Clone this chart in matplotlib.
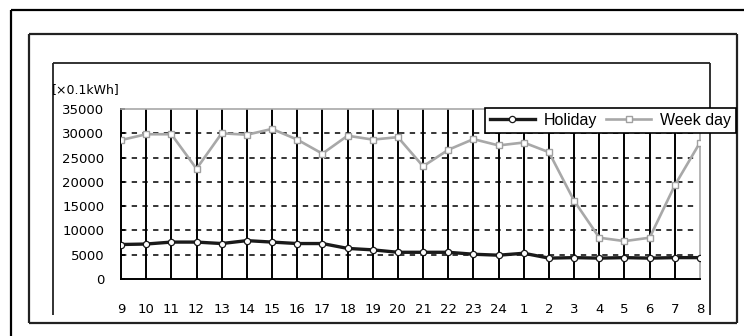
import matplotlib.pyplot as plt
from matplotlib.lines import Line2D

# hourly consumption, 9 o'clock through 8 o'clock next morning
hours = ['9', '10', '11', '12', '13', '14', '15', '16', '17', '18', '19', '20',
         '21', '22', '23', '24', '1', '2', '3', '4', '5', '6', '7', '8']
holiday = [7100, 7200, 7600, 7600, 7300, 7900, 7600, 7300, 7300, 6300, 6000, 5500,
           5500, 5500, 5100, 4900, 5300, 4300, 4400, 4300, 4400, 4300, 4400, 4400]
weekday = [28600, 29800, 29800, 22700, 30000, 29700, 30900, 28700, 25800, 29500, 28700, 29200,
           23200, 26600, 28800, 27500, 28100, 26100, 16100, 8500, 7800, 8500, 19300, 28100]
yticks = [0, 5000, 10000, 15000, 20000, 25000, 30000, 35000]

W, H = 744, 336
fig = plt.figure(figsize=(W / 100, H / 100), dpi=100)


def fx(px):
    return px / W


def fy(py):
    return 1 - py / H


def box(x0, y0, x1, y1, lw, color, sides='tlrb'):
    # rectangle edges drawn in pixel coordinates on the figure
    segs = {'t': ([x0, x1], [y0, y0]), 'b': ([x0, x1], [y1, y1]),
            'l': ([x0, x0], [y0, y1]), 'r': ([x1, x1], [y0, y1])}
    for s in sides:
        xs, ys = segs[s]
        fig.add_artist(Line2D([fx(v) for v in xs], [fy(v) for v in ys],
                              lw=lw, color=color, solid_capstyle='butt'))


box(11, 10, 760, 350, 1.6, 'black', 'tl')
box(29, 34, 737, 323, 1.6, '#222222')
box(53, 63, 710, 315, 1.3, '#222222', 'tlr')

ax = fig.add_axes([fx(121), fy(279), fx(700) - fx(121), fy(109) - fy(279)])
x = list(range(len(hours)))
ax.set_xlim(0, len(hours) - 1)
ax.set_ylim(yticks[0], yticks[-1])

# vertical grid at every hour, dashed horizontal grid
ax.vlines(x[1:-1], yticks[0], yticks[-1], color='black', lw=1.4, zorder=1)
for v in yticks[1:-1]:
    ax.plot([0, len(hours) - 1.2], [v, v], color='black', lw=1.1,
            dashes=(3.5, 3.5), zorder=1)

ax.plot(x, holiday, color='#1a1a1a', lw=2.4, marker='o', ms=4.5,
        mfc='white', mec='#1a1a1a', mew=0.9, zorder=3, label='Holiday')
ax.plot(x, weekday, color='#a8a8a8', lw=1.9, marker='s', ms=5,
        mfc='white', mec='#a0a0a0', mew=1.0, zorder=3, label='Week day')

for s in ['left', 'bottom']:
    ax.spines[s].set_color('black')
    ax.spines[s].set_linewidth(1.4)
for s in ['top', 'right']:
    ax.spines[s].set_color('#a8a8a8')
    ax.spines[s].set_linewidth(1.2)

ax.set_xticks(x)
ax.set_xticklabels(hours, fontsize=9.5)
ax.set_yticks(yticks)
ax.set_yticklabels([str(v) for v in yticks], fontsize=9.5)
ax.tick_params(axis='x', length=0, pad=17)
ax.tick_params(axis='y', length=3, direction='in', width=1.2, pad=12)

fig.text(fx(52), fy(90), '[×0.1kWh]', fontsize=9, va='center', ha='left')

leg = fig.legend(loc='upper left', bbox_to_anchor=(fx(485), fy(108)), ncol=2,
                 prop={'family': 'Liberation Sans', 'size': 11.5},
                 frameon=True, fancybox=False, handlelength=2.8,
                 handletextpad=0.55, columnspacing=0.6, borderpad=0.3,
                 borderaxespad=0, framealpha=1)
leg.get_frame().set_edgecolor('black')
leg.get_frame().set_linewidth(1.2)

fig.savefig('out.png', dpi=100)
